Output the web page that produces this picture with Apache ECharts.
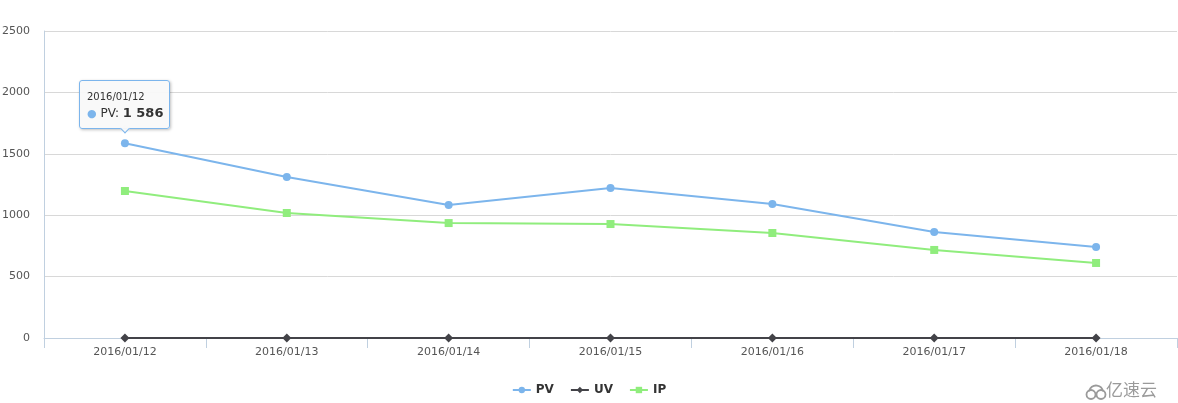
<!DOCTYPE html>
<html>
<head>
<meta charset="utf-8">
<script src="https://cdn.jsdelivr.net/npm/echarts@6/dist/echarts.min.js"></script>
<style>
html,body{margin:0;padding:0;background:#fff;}
#chart{width:1178px;height:403px;}
</style>
</head>
<body>
<div id="chart"></div>
<script>
var categories = ['2016/01/12','2016/01/13','2016/01/14','2016/01/15','2016/01/16','2016/01/17','2016/01/18'];
var pvValues = [1586, 1311, 1083, 1221, 1091, 863, 741];
var uvValues = [0, 0, 0, 0, 0, 0, 0];
var ipValues = [1197, 1018, 936, 928, 855, 717, 611];
var yTicks = [0, 500, 1000, 1500, 2000, 2500];

var FONT = '"DejaVu Sans", Verdana, sans-serif';
var chart = echarts.init(document.getElementById('chart'));

function fmt(n){ return String(n).replace(/\B(?=(\d{3})+(?!\d))/g, ' '); }

chart.setOption({
  animation: false,
  backgroundColor: '#fff',
  textStyle: { fontFamily: FONT },
  grid: { left: 44, right: 1, top: 31, bottom: 65, containLabel: false, outerBoundsMode: 'none' },
  tooltip: {
    trigger: 'item',
    position: 'top',
    alwaysShowContent: true,
    backgroundColor: 'rgba(249,249,249,0.95)',
    borderColor: '#7cb5ec',
    borderWidth: 1,
    borderRadius: 3,
    padding: [9, 6, 5, 7],
    extraCssText: 'box-shadow:1px 1px 3px rgba(0,0,0,0.25);',
    textStyle: { fontFamily: FONT, fontSize: 12, color: '#333' },
    formatter: function (p) {
      return '<div style="font-size:10px;line-height:14px;color:#333">' + p.name + '</div>' +
        '<div style="line-height:18px"><span style="color:' + p.color + ';font-size:11px">\u25CF</span> ' +
        p.seriesName + ': <b style="font-size:13px">' + fmt(p.value) + '</b></div>';
    }
  },
  legend: {
    top: 379,
    left: 'center',
    itemGap: 16,
    itemWidth: 18,
    itemHeight: 8,
    textStyle: { fontFamily: FONT, fontSize: 12, fontWeight: 'bold', color: '#333' },
    data: ['PV', 'UV', 'IP']
  },
  xAxis: {
    type: 'category',
    data: categories,
    boundaryGap: true,
    axisLine: { show: true, lineStyle: { color: '#C0D0E0', width: 1 } },
    axisTick: { show: true, alignWithLabel: false, length: 10, lineStyle: { color: '#C0D0E0' } },
    axisLabel: { color: '#555', fontSize: 11, margin: 9, fontFamily: FONT }
  },
  yAxis: {
    type: 'value',
    min: yTicks[0],
    max: yTicks[yTicks.length - 1],
    interval: 500,
    axisLine: { show: true, lineStyle: { color: '#C0D0E0', width: 1 } },
    axisTick: { show: false },
    splitLine: { show: true, lineStyle: { color: '#D8D8D8', width: 1 } },
    axisLabel: { color: '#555', fontSize: 11, margin: 14, fontFamily: FONT, formatter: function (v) { return String(v); } }
  },
  series: [
    {
      name: 'PV', type: 'line', data: pvValues,
      symbol: 'circle', symbolSize: 8,
      itemStyle: { color: '#7cb5ec' },
      lineStyle: { color: '#7cb5ec', width: 2 },
      z: 3
    },
    {
      name: 'UV', type: 'line', data: uvValues,
      symbol: 'diamond', symbolSize: 9,
      itemStyle: { color: '#434348' },
      lineStyle: { color: '#434348', width: 2 },
      z: 4
    },
    {
      name: 'IP', type: 'line', data: ipValues,
      symbol: 'rect', symbolSize: 8,
      itemStyle: { color: '#90ed7d' },
      lineStyle: { color: '#90ed7d', width: 2 },
      z: 2
    }
  ],
  graphic: [
    {
      type: 'text', left: 1106, top: 381,
      style: { text: '\u4EBF\u901F\u4E91', fill: '#9a9a9a', font: '17px "Noto Sans CJK SC", sans-serif' }
    },
    {
      type: 'group', left: 1084, top: 383,
      children: [
        { type: 'circle', shape: { cx: 5, cy: 8, r: 4.5 }, style: { fill: 'none', stroke: '#9a9a9a', lineWidth: 1.8 } },
        { type: 'circle', shape: { cx: 15, cy: 8, r: 4.5 }, style: { fill: 'none', stroke: '#9a9a9a', lineWidth: 1.8 } },
        { type: 'arc', shape: { cx: 10, cy: 6, r: 7, startAngle: Math.PI * 1.05, endAngle: Math.PI * 1.95 }, style: { fill: 'none', stroke: '#9a9a9a', lineWidth: 1.8 } }
      ]
    }
  ]
});

chart.dispatchAction({ type: 'showTip', seriesIndex: 0, dataIndex: 0 });
</script>
</body>
</html>
